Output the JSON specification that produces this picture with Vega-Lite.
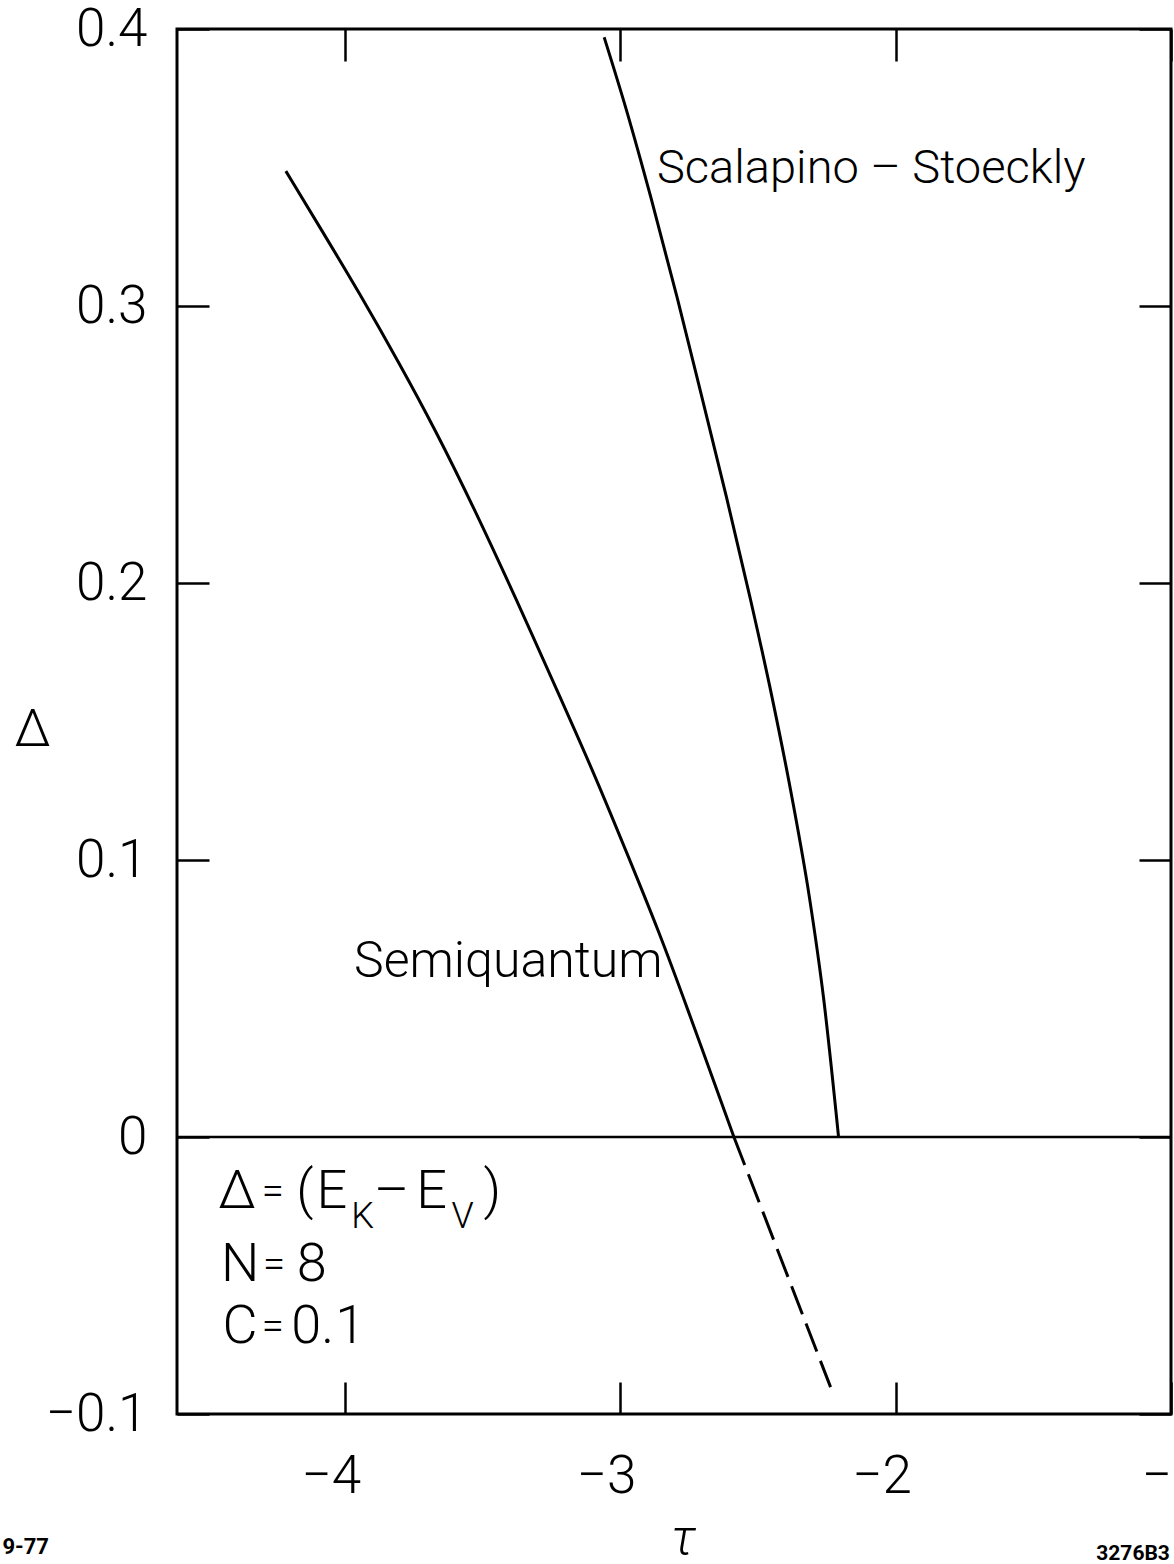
{
  "$schema": "https://vega.github.io/schema/vega-lite/v6.json",
  "width": 994,
  "height": 1385,
  "autosize": {"type": "none"},
  "padding": {"left": 177, "top": 29, "right": 3, "bottom": 150},
  "background": "white",
  "config": {
    "view": {"stroke": "black", "strokeWidth": 3},
    "font": "Roboto",
    "axis": {
      "grid": false,
      "domain": false,
      "tickColor": "black",
      "tickWidth": 2.5,
      "labelColor": "black",
      "labelFont": "Roboto",
      "labelFontSize": 53,
      "labelFontWeight": 300,
      "labelFlush": false,
      "labelOverlap": false,
      "titleFont": "Roboto",
      "titleColor": "black",
      "titleFontWeight": 300
    }
  },
  "datasets": {
    "semiquantum": [
      {"tau": -4.2138, "delta": 0.3487},
      {"tau": -4.0797, "delta": 0.3267},
      {"tau": -3.9493, "delta": 0.3051},
      {"tau": -3.8043, "delta": 0.2798},
      {"tau": -3.6667, "delta": 0.2545},
      {"tau": -3.5290, "delta": 0.2267},
      {"tau": -3.3804, "delta": 0.1949},
      {"tau": -3.2101, "delta": 0.1570},
      {"tau": -3.0906, "delta": 0.1303},
      {"tau": -2.9710, "delta": 0.1014},
      {"tau": -2.8587, "delta": 0.0740},
      {"tau": -2.7681, "delta": 0.0498},
      {"tau": -2.5870, "delta": 0.0}
    ],
    "semiquantumExtrapolated": [
      {"tau": -2.587, "delta": 0.0},
      {"tau": -2.236, "delta": -0.0903}
    ],
    "scalapino": [
      {"tau": -3.058, "delta": 0.397},
      {"tau": -2.978, "delta": 0.371},
      {"tau": -2.888, "delta": 0.339},
      {"tau": -2.793, "delta": 0.303},
      {"tau": -2.703, "delta": 0.267},
      {"tau": -2.614, "delta": 0.231},
      {"tau": -2.529, "delta": 0.195},
      {"tau": -2.449, "delta": 0.159},
      {"tau": -2.377, "delta": 0.123},
      {"tau": -2.313, "delta": 0.0866},
      {"tau": -2.261, "delta": 0.0498},
      {"tau": -2.207, "delta": 0.0}
    ],
    "labelSemi": [
      {"tau": -3.406, "delta": 0.0632, "text": "Semiquantum"}
    ],
    "labelScal": [
      {"tau": -2.088, "delta": 0.3495, "text": "Scalapino – Stoeckly"}
    ],
    "legendMain": [
      {"tau": -4.391, "delta": -0.0199, "text": "Δ"},
      {"tau": -4.145, "delta": -0.0199, "text": "("},
      {"tau": -4.047, "delta": -0.0199, "text": "E"},
      {"tau": -3.830, "delta": -0.0199, "text": "–"},
      {"tau": -3.685, "delta": -0.0199, "text": "E"},
      {"tau": -3.464, "delta": -0.0199, "text": ")"},
      {"tau": -4.380, "delta": -0.0462, "text": "N"},
      {"tau": -4.120, "delta": -0.0462, "text": "8"},
      {"tau": -4.380, "delta": -0.0686, "text": "C"},
      {"tau": -4.116, "delta": -0.0686, "text": "0."},
      {"tau": -3.980, "delta": -0.0686, "text": "1"}
    ],
    "legendEquals": [
      {"tau": -4.261, "delta": -0.0199, "text": "="},
      {"tau": -4.257, "delta": -0.0462, "text": "="},
      {"tau": -4.261, "delta": -0.0686, "text": "="}
    ],
    "legendSub": [
      {"tau": -3.935, "delta": -0.0289, "text": "K"},
      {"tau": -3.572, "delta": -0.0289, "text": "V"}
    ],
    "cornerLeft": [
      {"tau": -5.243, "delta": -0.148, "text": "9-77"}
    ],
    "cornerRight": [
      {"tau": -1.004, "delta": -0.1505, "text": "3276B3"}
    ]
  },
  "resolve": {"axis": {"x": "independent", "y": "independent"}},
  "layer": [
    {
      "data": {"name": "semiquantum"},
      "mark": {"type": "line", "color": "black", "strokeWidth": 3, "interpolate": "basis"},
      "encoding": {
        "x": {
          "field": "tau", "type": "quantitative",
          "scale": {"domain": [-4.609, -1.0], "nice": false, "zero": false},
          "axis": {
            "orient": "bottom", "values": [-4, -3, -2, -1], "tickSize": -32,
            "labelPadding": 68, "format": "d",
            "labelOffset": {"condition": {"test": "datum.value == -1", "value": 0}, "value": -14},
            "title": "τ", "titleFontSize": 50, "titleFontStyle": "italic",
            "titleX": 506, "titleY": 124, "titleAnchor": null, "titleAlign": "center", "titleBaseline": "middle"
          }
        },
        "y": {
          "field": "delta", "type": "quantitative",
          "scale": {"domain": [-0.1, 0.4], "nice": false, "zero": false},
          "axis": {
            "orient": "left", "values": [-0.1, 0, 0.1, 0.2, 0.3, 0.4], "tickSize": -32,
            "labelPadding": 62,
            "labelExpr": "datum.value == 0 ? '0' : format(datum.value, '.1f')",
            "title": "Δ", "titleFontSize": 52, "titleAngle": 0,
            "titleX": -145, "titleY": 700, "titleAnchor": null, "titleAlign": "center", "titleBaseline": "middle"
          }
        }
      }
    },
    {
      "data": {"name": "semiquantumExtrapolated"},
      "mark": {"type": "line", "color": "black", "strokeWidth": 3, "strokeDash": [30, 10]},
      "encoding": {
        "x": {"field": "tau", "type": "quantitative",
          "axis": {"orient": "top", "values": [-4, -3, -2, -1], "tickSize": -32, "labels": false, "title": null}},
        "y": {"field": "delta", "type": "quantitative",
          "axis": {"orient": "right", "values": [-0.1, 0, 0.1, 0.2, 0.3, 0.4], "tickSize": -32, "labels": false, "title": null}}
      }
    },
    {
      "data": {"name": "scalapino"},
      "mark": {"type": "line", "color": "black", "strokeWidth": 3, "interpolate": "monotone"},
      "encoding": {
        "x": {"field": "tau", "type": "quantitative", "axis": null},
        "y": {"field": "delta", "type": "quantitative", "axis": null}
      }
    },
    {
      "data": {"values": [{"delta": 0}]},
      "mark": {"type": "rule", "color": "black", "strokeWidth": 2.5},
      "encoding": {
        "y": {"field": "delta", "type": "quantitative", "axis": null}
      }
    },
    {
      "data": {"name": "labelSemi"},
      "mark": {"type": "text", "font": "Roboto", "fontSize": 50, "fontWeight": 300, "align": "center", "baseline": "middle", "color": "black"},
      "encoding": {
        "x": {"field": "tau", "type": "quantitative", "axis": null},
        "y": {"field": "delta", "type": "quantitative", "axis": null},
        "text": {"field": "text"}
      }
    },
    {
      "data": {"name": "labelScal"},
      "mark": {"type": "text", "font": "Roboto", "fontSize": 47, "fontWeight": 300, "align": "center", "baseline": "middle", "color": "black"},
      "encoding": {
        "x": {"field": "tau", "type": "quantitative", "axis": null},
        "y": {"field": "delta", "type": "quantitative", "axis": null},
        "text": {"field": "text"}
      }
    },
    {
      "data": {"name": "legendMain"},
      "mark": {"type": "text", "font": "Roboto", "fontSize": 54, "fontWeight": 300, "align": "center", "baseline": "middle", "color": "black"},
      "encoding": {
        "x": {"field": "tau", "type": "quantitative", "axis": null},
        "y": {"field": "delta", "type": "quantitative", "axis": null},
        "text": {"field": "text"}
      }
    },
    {
      "data": {"name": "legendEquals"},
      "mark": {"type": "text", "font": "Roboto", "fontSize": 40, "fontWeight": 300, "align": "center", "baseline": "middle", "color": "black"},
      "encoding": {
        "x": {"field": "tau", "type": "quantitative", "axis": null},
        "y": {"field": "delta", "type": "quantitative", "axis": null},
        "text": {"field": "text"}
      }
    },
    {
      "data": {"name": "legendSub"},
      "mark": {"type": "text", "font": "Roboto", "fontSize": 36, "fontWeight": 300, "align": "center", "baseline": "middle", "color": "black"},
      "encoding": {
        "x": {"field": "tau", "type": "quantitative", "axis": null},
        "y": {"field": "delta", "type": "quantitative", "axis": null},
        "text": {"field": "text"}
      }
    },
    {
      "data": {"name": "cornerLeft"},
      "mark": {"type": "text", "font": "Roboto", "fontSize": 22, "fontWeight": "bold", "align": "left", "baseline": "middle", "color": "black"},
      "encoding": {
        "x": {"field": "tau", "type": "quantitative", "axis": null},
        "y": {"field": "delta", "type": "quantitative", "axis": null},
        "text": {"field": "text"}
      }
    },
    {
      "data": {"name": "cornerRight"},
      "mark": {"type": "text", "font": "Roboto", "fontSize": 21, "fontWeight": "bold", "align": "right", "baseline": "middle", "color": "black"},
      "encoding": {
        "x": {"field": "tau", "type": "quantitative", "axis": null},
        "y": {"field": "delta", "type": "quantitative", "axis": null},
        "text": {"field": "text"}
      }
    }
  ]
}
